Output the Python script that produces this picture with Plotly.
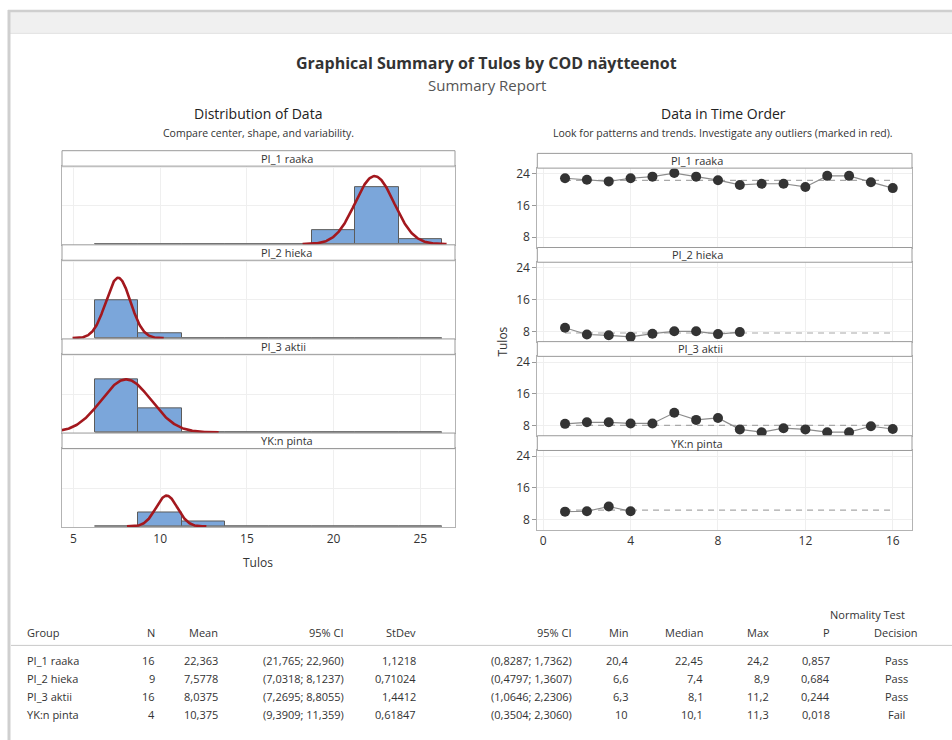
import numpy as np
import plotly.graph_objects as go

# ---- data -----------------------------------------------------------------
groups = ["PI_1 raaka", "PI_2 hieka", "PI_3 aktii", "YK:n pinta"]

tulos_pi1 = [22.9, 22.5, 22.1, 22.9, 23.3, 24.2, 23.3, 22.4,
             21.2, 21.5, 21.5, 20.7, 23.5, 23.5, 21.9, 20.4]
tulos_pi2 = [8.9, 7.2, 7.0, 6.6, 7.4, 8.0, 8.0, 7.3, 7.8]
tulos_pi3 = [8.4, 8.8, 8.8, 8.5, 8.5, 11.2, 9.4, 9.9,
             7.0, 6.3, 7.3, 7.0, 6.3, 6.3, 7.8, 7.1]
tulos_yk = [10.0, 10.1, 11.3, 10.1]

n_obs = [16, 9, 16, 4]
mean = [22.363, 7.5778, 8.0375, 10.375]
mean_ci_low = [21.765, 7.0318, 7.2695, 9.3909]
mean_ci_high = [22.960, 8.1237, 8.8055, 11.359]
stdev = [1.1218, 0.71024, 1.4412, 0.61847]
sd_ci_low = [0.8287, 0.4797, 1.0646, 0.3504]
sd_ci_high = [1.7362, 1.3607, 2.2306, 2.3060]
minimum = [20.4, 6.6, 6.3, 10]
median = [22.45, 7.4, 8.1, 10.1]
maximum = [24.2, 8.9, 11.2, 11.3]
p_value = [0.857, 0.684, 0.244, 0.018]
decision = ["Pass", "Pass", "Pass", "Fail"]

# histogram bins shared by all groups
bin_start = 6.25
bin_width = 2.5
n_bins = 8

hist_ticks = [5, 10, 15, 20, 25]
time_ticks = [0, 4, 8, 12, 16]
time_yticks = [8, 16, 24]

series = [tulos_pi1, tulos_pi2, tulos_pi3, tulos_yk]

# ---- styling ----------------------------------------------------------------
W, H = 952, 740
FONT = "Open Sans"
BAR = "#7BA6DA"
BAR_EDGE = "#5b5b5b"
CURVE = "#A3181E"
FRAME = "#b3b3b3"
STRIP = "#9a9a9a"
GRID = "#efefef"
TXT = "#333333"


def px(x):
    return x / W


def py(y):
    return 1 - y / H


def comma(s):
    return s.replace(".", ",")


fig = go.Figure()
layout = {}
shapes = []
annotations = []

# panel geometry (pixels)
hist_x0, hist_x1 = 62, 455
hist_top, hist_strip, hist_plot = 148.3, 15.5, 79.0
time_x0, time_x1 = 537.3, 912
time_top, time_strip, time_plot = 151.0, 14.8, 79.7

edges = bin_start + bin_width * np.arange(n_bins + 1)
centers = edges[:-1] + bin_width / 2

for i, (g, vals) in enumerate(zip(groups, series)):
    # ---------------- distribution panel ----------------
    k = i + 1
    xa, ya = ("xaxis" if k == 1 else f"xaxis{k}"), ("yaxis" if k == 1 else f"yaxis{k}")
    xr, yr = ("x" if k == 1 else f"x{k}"), ("y" if k == 1 else f"y{k}")
    s_top = hist_top + i * (hist_strip + hist_plot)
    p_top = s_top + hist_strip
    p_bot = p_top + hist_plot

    counts, _ = np.histogram(vals, bins=edges)
    # zero-height bins show as a grey line along the base
    fig.add_trace(go.Scatter(x=[edges[0], edges[-1]], y=[0, 0], mode="lines",
                             line=dict(color="#8a8a8a", width=1.2),
                             xaxis=xr, yaxis=yr, showlegend=False, hoverinfo="skip"))
    fig.add_trace(go.Bar(x=centers, y=counts, width=bin_width,
                         marker=dict(color=BAR, line=dict(color=BAR_EDGE, width=1)),
                         xaxis=xr, yaxis=yr, showlegend=False))
    m, s = mean[i], stdev[i]
    xs = np.linspace(m - 3.7 * s, m + 3.7 * s, 200)
    ys = n_obs[i] * bin_width * np.exp(-0.5 * ((xs - m) / s) ** 2) / (s * np.sqrt(2 * np.pi))
    fig.add_trace(go.Scatter(x=xs, y=ys, mode="lines", line=dict(color=CURVE, width=2.6),
                             xaxis=xr, yaxis=yr, showlegend=False, hoverinfo="skip"))

    layout[xa] = dict(domain=[px(hist_x0), px(hist_x1)], range=[4.34, 27.0], anchor=yr,
                      showline=True, mirror=True, linecolor=FRAME, linewidth=1,
                      showgrid=True, gridcolor=GRID, tickvals=hist_ticks,
                      showticklabels=(k == 4), ticks="", zeroline=False,
                      tickfont=dict(size=12, color=TXT, family=FONT), fixedrange=True)
    layout[ya] = dict(domain=[py(p_bot), py(p_top)], range=[-0.15, 16.3], anchor=xr,
                      showline=True, mirror=True, linecolor=FRAME, linewidth=1,
                      showgrid=True, gridcolor=GRID, tickvals=[8, 16],
                      showticklabels=False, ticks="", zeroline=False, fixedrange=True)
    shapes.append(dict(type="rect", xref="paper", yref="paper",
                       x0=px(hist_x0), x1=px(hist_x1), y0=py(p_top), y1=py(s_top),
                       line=dict(color=STRIP, width=1), fillcolor="white", layer="above"))
    annotations.append(dict(x=px((hist_x0 + hist_x1) / 2), y=py(s_top + hist_strip / 2),
                            xref="paper", yref="paper", text=g, showarrow=False,
                            font=dict(size=11, color=TXT), yanchor="middle"))

    # ---------------- time order panel ----------------
    k = i + 5
    xa, ya = f"xaxis{k}", f"yaxis{k}"
    xr, yr = f"x{k}", f"y{k}"
    s_top = time_top + i * (time_strip + time_plot)
    p_top = s_top + time_strip
    p_bot = p_top + time_plot

    order = np.arange(1, len(vals) + 1)
    fig.add_trace(go.Scatter(x=[1, max(n_obs)], y=[m, m], mode="lines",
                             line=dict(color="#a8a8a8", width=1.2, dash="6px,5px"),
                             xaxis=xr, yaxis=yr, showlegend=False, hoverinfo="skip"))
    fig.add_trace(go.Scatter(x=order, y=vals, mode="lines+markers",
                             line=dict(color="#8c8c8c", width=1.2),
                             marker=dict(color="#333333", size=10),
                             xaxis=xr, yaxis=yr, showlegend=False))

    layout[xa] = dict(domain=[px(time_x0), px(time_x1)], range=[-0.27, 16.88], anchor=yr,
                      showline=True, mirror=True, linecolor=FRAME, linewidth=1,
                      showgrid=True, gridcolor=GRID, tickvals=time_ticks,
                      showticklabels=(k == 8), ticks="", zeroline=False,
                      tickfont=dict(size=12, color=TXT, family=FONT), fixedrange=True)
    layout[ya] = dict(domain=[py(p_bot), py(p_top)], range=[5.4, 25.45], anchor=xr,
                      showline=True, mirror=True, linecolor=FRAME, linewidth=1,
                      showgrid=True, gridcolor=GRID, tickvals=time_yticks,
                      ticks="outside", ticklen=4, tickcolor="#999999",
                      tickfont=dict(size=12, color=TXT, family=FONT),
                      zeroline=False, fixedrange=True)
    shapes.append(dict(type="rect", xref="paper", yref="paper",
                       x0=px(time_x0), x1=px(time_x1), y0=py(p_top), y1=py(s_top),
                       line=dict(color=STRIP, width=1), fillcolor="white", layer="above"))
    annotations.append(dict(x=px((time_x0 + time_x1) / 2), y=py(s_top + time_strip / 2),
                            xref="paper", yref="paper", text=g, showarrow=False,
                            font=dict(size=11, color=TXT), yanchor="middle"))

# ---- window chrome -----------------------------------------------------------
shapes += [
    dict(type="rect", xref="paper", yref="paper", x0=px(8), x1=1, y0=py(30), y1=py(8),
         line=dict(width=0), fillcolor="#f0f0f0", layer="below"),
    dict(type="line", xref="paper", yref="paper", x0=px(8), x1=1, y0=py(8), y1=py(8),
         line=dict(color="#cfcfcf", width=2.5)),
    dict(type="line", xref="paper", yref="paper", x0=px(10), x1=1, y0=py(30.5), y1=py(30.5),
         line=dict(color="#e2e2e2", width=1)),
    dict(type="line", xref="paper", yref="paper", x0=px(9), x1=px(9), y0=0, y1=py(7),
         line=dict(color="#cfcfcf", width=3)),
    dict(type="line", xref="paper", yref="paper", x0=px(11), x1=1, y0=py(645), y1=py(645),
         line=dict(color="#c8c8c8", width=1)),
]

# ---- titles --------------------------------------------------------------------
def label(x, y, text, size, color=TXT, anchor="center", bold=False, angle=0):
    annotations.append(dict(x=px(x), y=py(y), xref="paper", yref="paper",
                            text=f"<b>{text}</b>" if bold else text, showarrow=False,
                            xanchor=anchor, yanchor="middle", textangle=angle,
                            font=dict(size=size, color=color, family=FONT)))


label(487, 60, "Graphical Summary of Tulos by COD näytteenot", 16, "#333333", bold=True)
label(487, 82, "Summary Report", 15, "#555555")
label(258, 111, "Distribution of Data", 14, "#222222")
label(258, 131, "Compare center, shape, and variability.", 10.5, "#333333")
label(723, 111, "Data in Time Order", 14, "#222222")
label(723, 131, "Look for patterns and trends. Investigate any outliers (marked in red).", 10.5, "#333333")
label(258, 562, "Tulos", 12, "#333333")
label(503, 340, "Tulos", 12, "#333333", angle=-90)

# ---- summary table ---------------------------------------------------------------
columns = [
    ("Group", 25, "left", groups),
    ("N", 157, "right", [str(n) for n in n_obs]),
    ("Mean", 220, "right", [comma(f"{v:#.5g}") for v in mean]),
    ("95% CI", 346, "right", ["(" + comma(f"{a:#.5g}") + "; " + comma(f"{b:#.5g}") + ")"
                              for a, b in zip(mean_ci_low, mean_ci_high)]),
    ("StDev", 418, "right", [comma(f"{v:#.5g}") for v in stdev]),
    ("95% CI", 574, "right", ["(" + comma(f"{a:.4f}") + "; " + comma(f"{b:.4f}") + ")"
                              for a, b in zip(sd_ci_low, sd_ci_high)]),
    ("Min", 630, "right", [comma(f"{v:g}") for v in minimum]),
    ("Median", 705, "right", [comma(f"{v:g}") for v in median]),
    ("Max", 771, "right", [comma(f"{v:g}") for v in maximum]),
    ("P", 832, "right", [comma(f"{v:.3f}") for v in p_value]),
    ("Decision", 896, "center", decision),
]
row_y = [660, 678, 696, 714]
for head, x, anchor, cells in columns:
    label(x, 632, head, 11, "#333333", anchor=anchor)
    for y, c in zip(row_y, cells):
        label(x, y, c, 11, "#333333", anchor=anchor)
label(867, 614, "Normality Test", 11, "#333333")

layout.update(dict(width=W, height=H, margin=dict(l=0, r=0, t=0, b=0),
                   paper_bgcolor="white", plot_bgcolor="white",
                   font=dict(family=FONT, color=TXT), bargap=0,
                   shapes=shapes, annotations=annotations, showlegend=False))
fig.update_layout(**layout)
fig.write_html("out.html")
